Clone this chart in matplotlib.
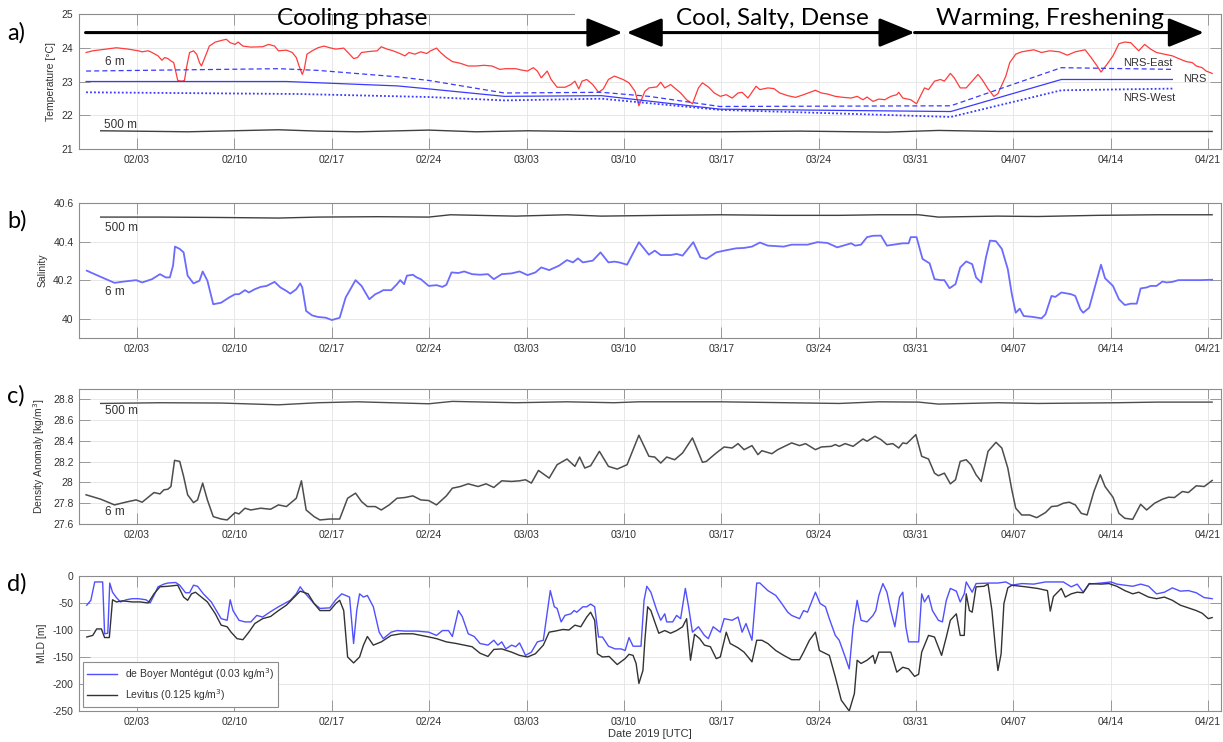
import numpy as np
import matplotlib
matplotlib.use('Agg')
import matplotlib.pyplot as plt
from matplotlib.ticker import FuncFormatter

plt.rcParams['font.family'] = ['Liberation Sans', 'DejaVu Sans']
plt.rcParams['axes.unicode_minus'] = False

# x axis: day of year 2019
tick_days = [34, 41, 48, 55, 62, 69, 76, 83, 90, 97, 104, 111]
tick_labels = ['02/03', '02/10', '02/17', '02/24', '03/03', '03/10',
               '03/17', '03/24', '03/31', '04/07', '04/14', '04/21']

# ---- a) temperature ----
t6_day = [30.34, 30.82, 32.52, 33.37, 34.09, 34.37, 34.80, 35.08, 35.51, 35.79, 35.99, 36.22,
          36.44, 36.64, 36.78, 36.93, 37.21, 37.41, 37.58, 37.78, 38.06, 38.29, 38.49, 38.63,
          38.83, 39.20, 39.63, 40.19, 40.42, 40.70, 41.05, 41.27, 41.61, 42.18, 43.03, 43.46,
          43.89, 44.17, 44.74, 45.16, 45.45, 45.65, 45.88, 46.02, 46.22, 46.59, 47.01, 47.44,
          47.86, 48.29, 48.86, 49.28, 49.57, 49.85, 50.14, 50.70, 51.27, 51.56, 51.98, 52.41,
          52.84, 53.26, 53.55, 53.97, 54.40, 54.82, 55.11, 55.53, 55.82, 56.24, 56.67, 57.24,
          57.81, 58.38, 58.94, 59.51, 60.08, 60.51, 61.22, 61.64, 62.07, 62.49, 62.78, 63.06,
          63.49, 63.77, 64.20, 64.77, 65.19, 65.48, 65.76, 65.99, 66.33, 66.76, 67.18, 67.52,
          67.89, 68.32, 68.94, 69.37, 69.80, 70.08, 70.51, 70.80, 71.37, 71.65, 71.94, 72.36,
          72.65, 73.08, 73.51, 73.93, 74.36, 74.65, 75.07, 75.50, 75.93, 76.36, 76.78, 77.21,
          77.50, 77.92, 78.50, 78.78, 79.35, 79.78, 80.21, 80.78, 81.35, 81.92, 82.77, 83.20,
          83.63, 84.20, 84.77, 85.34, 85.77, 86.19, 86.48, 86.91, 87.33, 87.76, 88.19, 88.62,
          88.76, 89.05, 89.62, 90.04, 90.61, 90.90, 91.33, 91.76, 92.04, 92.47, 92.75, 93.18,
          93.61, 94.04, 94.46, 94.75, 95.18, 95.60, 95.89, 96.46, 96.74, 97.17, 97.60, 98.46,
          99.03, 99.60, 100.31, 100.88, 101.45, 102.16, 102.59, 103.02, 103.30, 103.73, 104.16,
          104.59, 105.01, 105.44, 106.01, 106.44, 106.87, 107.29, 107.86, 108.43, 109.00,
          109.43, 109.86, 110.15, 110.57, 110.86, 111.29]
t6 = [23.86, 23.91, 24.00, 23.96, 23.91, 23.88, 23.91, 23.86, 23.76, 23.63, 23.71, 23.68,
      23.61, 23.56, 23.31, 23.03, 23.01, 23.03, 23.46, 23.86, 23.91, 23.81, 23.56, 23.46,
      23.66, 24.05, 24.17, 24.23, 24.25, 24.15, 24.10, 24.17, 24.05, 24.02, 24.03, 24.10,
      24.05, 23.91, 23.93, 23.86, 23.71, 23.46, 23.21, 23.36, 23.81, 23.91, 24.00, 24.05,
      24.00, 23.96, 23.99, 23.81, 23.68, 23.71, 23.86, 23.89, 23.91, 24.03, 23.96, 23.91,
      23.84, 23.76, 23.86, 23.81, 23.88, 23.83, 23.91, 23.99, 23.86, 23.71, 23.59, 23.54,
      23.46, 23.46, 23.48, 23.46, 23.36, 23.38, 23.38, 23.34, 23.31, 23.41, 23.31, 23.11,
      23.31, 23.06, 22.83, 22.83, 22.91, 23.01, 22.78, 23.01, 23.06, 22.91, 22.68, 22.78,
      23.06, 23.16, 23.06, 22.96, 22.71, 22.28, 22.71, 22.81, 22.84, 22.98, 22.81, 22.91,
      22.81, 22.66, 22.46, 22.34, 22.81, 22.96, 22.84, 22.66, 22.56, 22.61, 22.51, 22.66,
      22.68, 22.51, 22.86, 22.76, 22.81, 22.79, 22.66, 22.58, 22.53, 22.61, 22.74, 22.66,
      22.63, 22.56, 22.53, 22.51, 22.56, 22.46, 22.54, 22.41, 22.48, 22.46, 22.56, 22.61,
      22.68, 22.51, 22.46, 22.34, 22.81, 22.76, 23.01, 23.06, 23.01, 23.24, 23.11, 22.81,
      22.81, 23.01, 23.21, 23.06, 22.78, 22.56, 22.64, 23.16, 23.56, 23.81, 23.88, 23.94,
      23.86, 23.91, 23.88, 23.78, 23.88, 23.94, 23.71, 23.46, 23.28, 23.51, 23.76,
      24.12, 24.17, 24.15, 23.91, 24.10, 23.96, 23.86, 23.81, 23.76, 23.66,
      23.59, 23.56, 23.46, 23.41, 23.31, 23.24]

nrs_day = [30.34, 44.74, 52.70, 55.00, 60.40, 67.40, 75.90, 92.50, 100.45, 108.43]
nrs = [23.00, 23.00, 22.87, 22.78, 22.56, 22.58, 22.18, 22.11, 23.06, 23.06]
east_day = [30.34, 44.20, 47.00, 52.70, 55.00, 60.40, 67.40, 70.80, 75.90, 92.50, 100.45, 108.43]
east = [23.31, 23.38, 23.33, 23.14, 23.03, 22.66, 22.68, 22.56, 22.26, 22.28, 23.41, 23.36]
west_day = [30.34, 45.60, 55.00, 60.40, 67.40, 75.90, 92.50, 100.45, 108.43]
west = [22.68, 22.63, 22.54, 22.44, 22.49, 22.16, 21.95, 22.74, 22.79]

t500_day = [31.39, 35.65, 37.64, 44.17, 47.01, 49.85, 54.97, 58.38, 62.07, 65.76,
            75.93, 81.63, 87.91, 91.61, 95.89, 101.59, 111.29]
t500 = [21.54, 21.52, 21.51, 21.57, 21.53, 21.51, 21.56, 21.51, 21.54, 21.52,
        21.51, 21.53, 21.50, 21.55, 21.52, 21.52, 21.52]

# ---- b) salinity ----
s6_day = [30.39, 31.39, 32.38, 33.09, 33.94, 34.37, 35.08, 35.65, 36.07, 36.36, 36.59, 36.73,
          37.07, 37.35, 37.64, 38.06, 38.49, 38.72, 39.06, 39.48, 40.05, 40.62, 41.05, 41.33,
          41.76, 42.04, 42.47, 42.89, 43.32, 43.89, 44.31, 44.74, 45.02, 45.45, 45.73, 45.88,
          46.16, 46.59, 47.01, 47.58, 48.01, 48.57, 49.00, 49.71, 50.14, 50.70, 51.13, 51.41,
          51.70, 52.27, 52.69, 52.92, 53.20, 53.40, 53.83, 54.11, 54.40, 54.97, 55.53, 55.96,
          56.24, 56.61, 57.10, 57.52, 58.09, 58.66, 59.23, 59.65, 60.22, 60.93, 61.50, 62.07,
          62.64, 63.06, 63.63, 64.34, 64.91, 65.34, 65.70, 66.05, 66.76, 67.32, 67.89, 68.32,
          68.66, 69.23, 70.08, 70.80, 71.22, 71.65, 72.36, 72.79, 73.22, 73.99, 74.50, 74.93,
          75.64, 76.21, 77.07, 77.64, 78.21, 78.78, 79.35, 80.49, 81.06, 82.20, 82.92, 83.63,
          84.34, 85.34, 85.63, 86.05, 86.48, 86.91, 87.48, 87.91, 89.05, 89.47, 89.62, 90.04,
          90.47, 90.98, 91.33, 91.76, 92.04, 92.41, 92.84, 93.18, 93.61, 94.04, 94.32, 94.69,
          95.03, 95.32, 95.75, 96.17, 96.60, 96.89, 97.17, 97.46, 97.74, 98.31, 99.03, 99.31,
          99.74, 100.02, 100.45, 101.16, 101.45, 101.82, 102.02, 102.45, 103.30, 103.59,
          104.16, 104.59, 105.01, 105.44, 105.87, 106.15, 106.58, 106.87, 107.29, 107.72,
          108.01, 108.43, 108.86, 109.29, 109.86, 110.43, 111.29]
s6 = [40.249, 40.217, 40.186, 40.193, 40.200, 40.188, 40.205, 40.231, 40.214, 40.214, 40.275, 40.374,
      40.362, 40.344, 40.223, 40.183, 40.197, 40.245, 40.197, 40.075, 40.083, 40.110, 40.127, 40.127,
      40.148, 40.136, 40.153, 40.165, 40.170, 40.191, 40.162, 40.144, 40.130, 40.153, 40.183, 40.162,
      40.040, 40.017, 40.009, 40.005, 39.993, 40.005, 40.110, 40.200, 40.170, 40.101, 40.127, 40.136,
      40.148, 40.148, 40.179, 40.200, 40.179, 40.223, 40.228, 40.214, 40.205, 40.170, 40.174, 40.165,
      40.176, 40.240, 40.237, 40.245, 40.231, 40.228, 40.231, 40.205, 40.231, 40.235, 40.245, 40.226,
      40.240, 40.266, 40.252, 40.275, 40.304, 40.292, 40.313, 40.292, 40.301, 40.344, 40.292, 40.296,
      40.292, 40.280, 40.397, 40.332, 40.353, 40.330, 40.330, 40.336, 40.327, 40.397, 40.318, 40.310,
      40.344, 40.353, 40.365, 40.367, 40.374, 40.395, 40.379, 40.374, 40.384, 40.384, 40.397, 40.393,
      40.370, 40.391, 40.379, 40.384, 40.423, 40.430, 40.431, 40.379, 40.391, 40.391, 40.423, 40.423,
      40.310, 40.287, 40.205, 40.200, 40.200, 40.158, 40.179, 40.266, 40.297, 40.283, 40.214, 40.188,
      40.318, 40.405, 40.402, 40.362, 40.257, 40.127, 40.031, 40.052, 40.014, 40.010, 40.002, 40.023,
      40.118, 40.113, 40.136, 40.127, 40.118, 40.049, 40.031, 40.057, 40.280, 40.210,
      40.170, 40.101, 40.071, 40.078, 40.078, 40.157, 40.162, 40.170, 40.170, 40.193,
      40.188, 40.191, 40.200, 40.200, 40.200, 40.200, 40.202]

s500_day = [31.39, 35.65, 39.91, 44.17, 47.01, 51.27, 54.97, 56.53, 61.22, 64.91, 67.37, 71.65,
            75.93, 80.21, 84.48, 87.33, 90.19, 91.61, 95.89, 98.74, 103.02, 107.29, 111.29]
s500 = [40.527, 40.527, 40.525, 40.522, 40.527, 40.529, 40.527, 40.539, 40.532, 40.539, 40.532, 40.536,
        40.539, 40.536, 40.536, 40.539, 40.539, 40.527, 40.532, 40.530, 40.536, 40.539, 40.539]

# ---- c) density anomaly ----
d6_day = [30.34, 31.39, 32.38, 33.37, 33.94, 34.37, 35.22, 35.65, 35.93, 36.22, 36.44, 36.70,
          37.07, 37.35, 37.64, 38.06, 38.35, 38.72, 39.06, 39.48, 40.05, 40.48, 41.05, 41.33,
          41.76, 42.18, 42.89, 43.60, 44.17, 44.74, 45.45, 45.82, 46.16, 46.73, 47.15, 47.86,
          48.57, 49.14, 49.71, 50.14, 50.56, 51.13, 51.56, 52.13, 52.69, 53.26, 53.83, 54.40,
          54.97, 55.53, 56.24, 56.67, 57.24, 57.81, 58.52, 59.09, 59.65, 60.22, 60.93, 61.50,
          61.93, 62.35, 62.86, 63.63, 64.20, 64.91, 65.48, 65.82, 66.19, 66.61, 67.24, 67.89,
          68.52, 69.23, 70.08, 70.80, 71.22, 71.65, 72.08, 72.65, 73.22, 73.93, 74.65, 74.93,
          75.64, 76.21, 76.78, 77.21, 77.64, 78.21, 78.64, 78.92, 79.64, 80.06, 81.06, 81.63,
          82.06, 82.77, 83.20, 83.91, 84.20, 84.48, 84.91, 85.48, 86.19, 86.48, 87.05, 87.48,
          87.91, 88.33, 88.76, 89.05, 89.33, 89.99, 90.41, 90.90, 91.33, 91.61, 92.04, 92.47,
          92.84, 93.18, 93.61, 93.95, 94.32, 94.69, 95.18, 95.75, 96.17, 96.60, 96.89, 97.17,
          97.60, 98.17, 98.68, 99.31, 99.74, 100.17, 100.59, 101.02, 101.45, 101.88, 102.30,
          102.79, 103.25, 103.59, 104.16, 104.59, 105.01, 105.58, 106.15, 106.58, 107.15,
          107.72, 108.15, 108.58, 109.15, 109.58, 110.15, 110.72, 111.29]
d6 = [27.881, 27.839, 27.784, 27.816, 27.832, 27.810, 27.903, 27.890, 27.929, 27.935, 27.961, 28.213,
      28.203, 28.058, 27.881, 27.806, 27.832, 27.994, 27.832, 27.671, 27.648, 27.639, 27.710, 27.697,
      27.752, 27.735, 27.752, 27.742, 27.784, 27.768, 27.848, 28.016, 27.735, 27.671, 27.639, 27.648,
      27.648, 27.848, 27.897, 27.816, 27.768, 27.768, 27.735, 27.784, 27.848, 27.855, 27.871, 27.832,
      27.826, 27.784, 27.871, 27.945, 27.961, 27.987, 27.961, 27.987, 27.952, 28.016, 28.010, 28.016,
      28.026, 27.994, 28.116, 28.042, 28.171, 28.226, 28.155, 28.245, 28.139, 28.161, 28.300, 28.155,
      28.129, 28.171, 28.455, 28.252, 28.245, 28.187, 28.245, 28.219, 28.284, 28.429, 28.194, 28.203,
      28.284, 28.342, 28.332, 28.374, 28.316, 28.355, 28.268, 28.306, 28.277, 28.316, 28.381, 28.355,
      28.374, 28.316, 28.342, 28.348, 28.365, 28.348, 28.374, 28.348, 28.419, 28.397, 28.445, 28.413,
      28.365, 28.374, 28.332, 28.381, 28.374, 28.461, 28.252, 28.226, 28.090, 28.065, 28.090, 27.987,
      28.026, 28.203, 28.219, 28.171, 28.074, 28.010, 28.300, 28.387, 28.332, 28.139, 27.929, 27.752,
      27.687, 27.687, 27.661, 27.710, 27.768, 27.774, 27.800, 27.810, 27.784, 27.703, 27.687,
      27.913, 28.074, 27.961, 27.858, 27.703, 27.655, 27.645, 27.790, 27.735, 27.800,
      27.839, 27.858, 27.855, 27.913, 27.903, 27.968, 27.961, 28.019]

d500_day = [31.39, 35.65, 40.05, 44.17, 47.01, 49.85, 54.97, 56.67, 61.22, 64.91, 68.30, 70.08,
            75.93, 84.48, 87.33, 90.19, 91.61, 95.89, 98.74, 104.45, 107.29, 111.29]
d500 = [28.761, 28.768, 28.765, 28.748, 28.768, 28.777, 28.758, 28.781, 28.768, 28.777, 28.768, 28.777,
        28.777, 28.761, 28.777, 28.774, 28.755, 28.768, 28.761, 28.768, 28.774, 28.774]

# ---- d) mixed layer depth ----
dbm_day = [30.39, 30.68, 30.96, 31.53, 31.67, 31.90, 32.04, 32.24, 32.52, 32.81, 33.23, 33.66,
           34.09, 34.65, 34.94, 35.22, 35.51, 35.93, 36.22, 36.78, 37.07, 37.49, 37.78, 38.06,
           38.35, 38.77, 39.34, 39.77, 40.05, 40.48, 40.70, 40.90, 41.33, 41.76, 42.18, 42.61,
           43.03, 43.60, 44.17, 44.60, 45.02, 45.45, 45.73, 46.02, 46.73, 47.15, 47.86, 48.29,
           48.72, 49.28, 49.57, 49.80, 50.00, 50.28, 50.56, 50.99, 51.41, 51.70, 52.27, 52.69,
           53.26, 54.11, 54.97, 55.53, 55.96, 56.39, 56.67, 57.10, 57.38, 57.81, 58.24, 58.66,
           59.23, 59.65, 59.94, 60.22, 60.51, 60.93, 61.22, 61.50, 61.93, 62.35, 62.78, 63.21,
           63.49, 63.71, 64.00, 64.20, 64.49, 64.77, 65.19, 65.42, 65.62, 66.05, 66.33, 66.61,
           66.90, 67.18, 67.46, 67.89, 68.37, 68.80, 69.09, 69.37, 69.66, 70.23, 70.45, 70.65,
           70.94, 71.37, 71.65, 71.94, 72.08, 72.51, 72.79, 73.08, 73.42, 73.65, 73.93, 74.36,
           74.79, 75.07, 75.42, 75.93, 76.21, 76.78, 77.21, 77.50, 77.78, 78.21, 78.55, 78.78,
           79.35, 79.92, 80.35, 80.78, 81.06, 81.63, 81.92, 82.20, 82.49, 82.77, 83.11, 83.49,
           83.77, 84.20, 84.48, 84.91, 85.20, 85.48, 85.77, 86.05, 86.48, 86.91, 87.11, 87.33,
           87.62, 87.91, 88.19, 88.48, 88.82, 89.05, 89.27, 89.47, 90.19, 90.41, 90.61, 90.90,
           91.18, 91.61, 91.90, 92.18, 92.47, 92.90, 93.18, 93.47, 93.61, 94.04, 94.32, 95.32,
           95.89, 96.46, 96.89, 97.60, 98.46, 99.31, 99.88, 100.59, 101.16, 101.59, 102.02,
           102.45, 103.30, 104.02, 104.44, 105.01, 105.58, 106.15, 106.72, 107.29, 107.86,
           108.43, 109.00, 109.58, 110.15, 110.72, 111.29]
dbm = [-54, -45, -11, -11, -107, -106, -13, -30, -40, -48, -44, -42,
       -42, -44, -50, -36, -20, -15, -13, -12, -17, -31, -31, -17,
       -19, -33, -48, -67, -79, -82, -44, -64, -82, -85, -85, -73,
       -76, -66, -57, -51, -45, -33, -20, -30, -51, -60, -59, -44,
       -33, -39, -125, -63, -33, -39, -36, -57, -104, -116, -104, -101,
       -102, -102, -104, -110, -101, -101, -112, -64, -75, -107, -112, -125,
       -128, -119, -128, -122, -135, -128, -131, -124, -147, -141, -122, -119,
       -67, -27, -57, -60, -85, -73, -70, -64, -67, -57, -57, -52,
       -57, -113, -113, -130, -135, -135, -138, -114, -130, -130, -45, -19,
       -30, -64, -82, -70, -85, -85, -73, -79, -23, -57, -104, -94,
       -110, -116, -94, -104, -79, -82, -76, -104, -88, -119, -13, -13,
       -27, -36, -51, -67, -73, -79, -64, -67, -48, -30, -51, -57,
       -79, -110, -119, -150, -172, -94, -45, -82, -85, -73, -64, -36,
       -14, -30, -64, -94, -39, -30, -94, -122, -122, -33, -48, -36,
       -64, -82, -85, -45, -23, -28, -48, -33, -11, -30, -14, -13,
       -13, -11, -17, -14, -15, -11, -11, -11, -20, -15, -30,
       -15, -13, -11, -15, -17, -19, -15, -19, -33, -30,
       -22, -28, -27, -31, -40, -42]

lev_day = [30.39, 30.82, 31.10, 31.44, 31.67, 32.01, 32.24, 32.52, 32.95, 33.66, 34.23, 34.80,
           35.22, 35.65, 36.22, 36.93, 37.35, 37.64, 37.92, 38.20, 38.63, 39.06, 39.63, 40.05,
           40.48, 40.76, 41.19, 41.61, 42.04, 42.47, 43.03, 43.60, 44.17, 44.74, 45.31, 45.73,
           46.30, 46.73, 47.15, 47.86, 48.29, 48.57, 48.86, 49.14, 49.57, 50.00, 50.28, 50.56,
           50.99, 51.56, 52.27, 52.98, 53.83, 54.82, 55.53, 56.24, 56.95, 57.52, 58.09, 58.66,
           59.23, 59.65, 60.22, 60.93, 61.50, 62.07, 62.64, 63.21, 63.63, 64.06, 64.63, 65.05,
           65.48, 65.90, 66.33, 66.61, 66.90, 67.10, 67.46, 67.94, 68.52, 69.09, 69.37, 69.66,
           69.88, 70.08, 70.37, 70.51, 70.71, 70.94, 71.22, 71.51, 71.94, 72.36, 72.79, 73.22,
           73.51, 73.79, 74.08, 74.45, 74.79, 75.22, 75.64, 75.93, 76.36, 76.64, 77.21, 77.64,
           78.21, 78.55, 78.92, 79.35, 79.92, 80.49, 81.06, 81.63, 81.92, 82.34, 82.77, 83.06,
           83.77, 84.20, 84.63, 85.20, 85.57, 85.77, 86.05, 86.48, 86.91, 87.05, 87.33, 88.19,
           88.62, 89.05, 89.47, 89.90, 90.19, 90.41, 90.90, 91.33, 91.84, 92.18, 92.47, 92.90,
           93.18, 93.47, 93.61, 93.84, 94.04, 94.32, 94.89, 95.18, 95.46, 95.75, 95.89, 96.12,
           96.32, 96.60, 96.89, 97.88, 98.74, 99.45, 99.65, 99.88, 100.45, 100.73, 101.16,
           101.59, 102.02, 102.45, 103.30, 103.87, 104.44, 105.01, 105.58, 106.01, 106.72,
           107.29, 107.86, 108.43, 109.00, 109.58, 110.15, 110.58, 111.01, 111.29]
lev = [-113, -110, -98, -98, -114, -114, -44, -48, -46, -48, -48, -50,
       -33, -20, -19, -17, -39, -45, -33, -30, -39, -48, -70, -91,
       -94, -104, -116, -118, -104, -88, -79, -75, -64, -54, -39, -28,
       -33, -51, -64, -64, -51, -45, -64, -150, -161, -150, -128, -112,
       -128, -122, -110, -107, -107, -112, -116, -122, -125, -128, -131, -143,
       -149, -136, -135, -141, -147, -150, -144, -128, -104, -102, -99, -100,
       -91, -94, -76, -67, -82, -144, -150, -149, -164, -153, -145, -147,
       -162, -199, -175, -119, -57, -64, -85, -106, -101, -106, -101, -94,
       -79, -156, -108, -116, -128, -131, -153, -150, -104, -125, -133, -141,
       -159, -119, -119, -125, -138, -147, -155, -155, -141, -119, -104, -138,
       -147, -187, -230, -250, -218, -156, -162, -156, -147, -162, -141, -141,
       -178, -169, -172, -186, -182, -141, -110, -113, -147, -113, -82, -70,
       -110, -110, -33, -64, -67, -20, -19, -15, -64, -144, -175, -144,
       -51, -22, -17, -20, -23, -27, -65, -38, -23, -39, -33,
       -30, -31, -14, -15, -14, -19, -27, -33, -30, -39,
       -42, -39, -45, -54, -59, -64, -69, -79, -77]

fig = plt.figure(figsize=(12.23, 7.42), dpi=100)
left, width, height = 0.0646, 0.9338, 0.1819
bottoms = [0.7992, 0.5445, 0.2938, 0.0418]
axes = [fig.add_axes([left, b, width, height]) for b in bottoms]

spine_col = '#8c8c8c'
for ax in axes:
    ax.set_xlim(29.83, 111.93)
    ax.set_xticks(tick_days, tick_labels)
    ax.grid(True, color='#e3e3e3', lw=0.6)
    ax.set_axisbelow(True)
    ax.tick_params(direction='in', length=8, width=0.6, color=spine_col,
                   labelsize=7.5, labelcolor='#333333', top=True, right=True, pad=4)
    for s in ax.spines.values():
        s.set_color(spine_col)
        s.set_linewidth(0.8)
    ax.yaxis.set_major_formatter(FuncFormatter(lambda v, p: '%g' % v))

lab = dict(fontsize=8.5, color='#333333', va='center')
big = dict(family='Lato', fontsize=17.5, color='black')

# a) temperature
ax = axes[0]
ax.plot(t6_day, t6, color='#ff3b3b', lw=0.9)
ax.plot(east_day, east, color='#3a3aff', lw=0.9, ls=(0, (4, 2.5)))
ax.plot(nrs_day, nrs, color='#3a3aff', lw=0.9)
ax.plot(west_day, west, color='#3a3aff', lw=1.3, ls=(0, (1, 1.2)))
ax.plot(t500_day, t500, color='#404040', lw=1.0)
ax.set_ylim(21, 25)
ax.set_yticks([21, 22, 23, 24, 25])
ax.set_ylabel('Temperature [°C]', fontsize=7.5, color='#333333')
ax.text(31.7, 23.58, '6 m', **lab)
ax.text(31.6, 21.72, '500 m', **lab)
ax.text(104.87, 23.54, 'NRS-East', fontsize=8, color='#333333', va='center')
ax.text(109.23, 23.06, 'NRS', fontsize=8, color='#333333', va='center')
ax.text(104.87, 22.50, 'NRS-West', fontsize=8, color='#333333', va='center')

# white band where the phase labels sit over the top frame
ax.axvspan(65.5, 107.2, ymin=0.85, ymax=1.06, color='white', zorder=2.6, clip_on=False, lw=0)

arrow_y = 24.45
head = '-|>,head_length=1.1,head_width=0.45'
for x0, x1, style in [(30.3, 68.9, head),
                      (69.2, 89.9, '<|-|>,head_length=1.1,head_width=0.45'),
                      (89.9, 110.7, head)]:
    ax.annotate('', xy=(x1, arrow_y), xytext=(x0, arrow_y), annotation_clip=False, zorder=4,
                arrowprops=dict(arrowstyle=style, lw=2.2, color='black', mutation_scale=20,
                                shrinkA=0, shrinkB=0))
ax.text(49.5, 24.86, 'Cooling phase', ha='center', va='center', zorder=5, **big)
ax.text(79.7, 24.86, 'Cool, Salty, Dense', ha='center', va='center', zorder=5, **big)
ax.text(99.6, 24.86, 'Warming, Freshening', ha='center', va='center', zorder=5, **big)

# b) salinity
ax = axes[1]
ax.plot(s6_day, s6, color='#6b6bff', lw=1.3)
ax.plot(s500_day, s500, color='#404040', lw=1.0)
ax.set_ylim(39.9, 40.6)
ax.set_yticks([40, 40.2, 40.4, 40.6])
ax.set_ylabel('Salinity', fontsize=7.5, color='#333333')
ax.text(31.67, 40.471, '500 m', **lab)
ax.text(31.7, 40.141, '6 m', **lab)

# c) density anomaly
ax = axes[2]
ax.plot(d6_day, d6, color='#4d4d4d', lw=1.1)
ax.plot(d500_day, d500, color='#4d4d4d', lw=1.0)
ax.set_ylim(27.6, 28.9)
ax.set_yticks([27.6, 27.8, 28, 28.2, 28.4, 28.6, 28.8])
ax.set_ylabel('Density Anomaly [kg/m$^3$]', fontsize=7.5, color='#333333')
ax.text(31.67, 28.687, '500 m', **lab)
ax.text(31.7, 27.72, '6 m', **lab)

# d) mixed layer depth
ax = axes[3]
ax.plot(dbm_day, dbm, color='#5050ff', lw=1.0, label='de Boyer Montégut (0.03 kg/m$^3$)')
ax.plot(lev_day, lev, color='#333333', lw=1.0, label='Levitus (0.125 kg/m$^3$)')
ax.set_ylim(-250, 0)
ax.set_yticks([-250, -200, -150, -100, -50, 0])
ax.set_ylabel('MLD [m]', fontsize=7.5, color='#333333')
ax.set_xlabel('Date 2019 [UTC]', fontsize=8, color='#333333', labelpad=2)
leg = ax.legend(loc='lower left', fontsize=7.5, fancybox=False, framealpha=1,
                edgecolor=spine_col, handlelength=2.8, borderaxespad=0.4, labelcolor='#333333')
leg.get_frame().set_linewidth(0.8)

for txt, yf in zip(['a)', 'b)', 'c)', 'd)'], [0.9556, 0.7028, 0.4666, 0.2128]):
    fig.text(0.006, yf, txt, family='Lato', fontsize=17, va='center', ha='left')

fig.savefig('out.png', dpi=100)
